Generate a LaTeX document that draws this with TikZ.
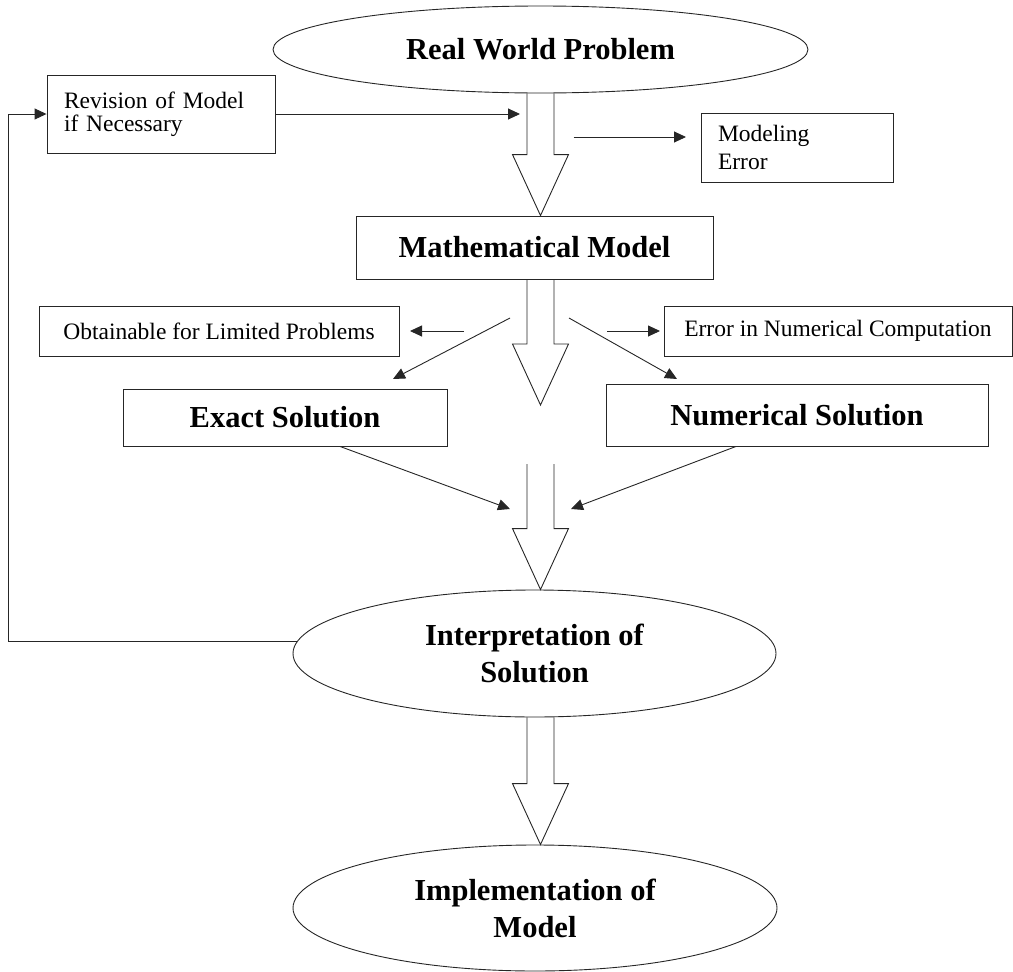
\documentclass[tikz,border=0pt]{standalone}
\usepackage{fontspec}
\setmainfont{Liberation Serif}
\usepackage{tikz}
\usetikzlibrary{arrows.meta,calc,shapes.geometric}

\begin{document}
\begin{tikzpicture}[
            x=1pt, y=-1pt,
            >={Triangle[length=12pt,width=11pt]},
            ellipse_node/.style={
                ellipse, draw=black!85, line width=0.9pt,
                inner sep=0pt, align=center,
                font=\fontsize{30.5}{37}\selectfont\bfseries
            },
            box_node/.style={
                rectangle, draw=black!85, line width=0.9pt,
                inner sep=0pt, align=center,
                font=\fontsize{30.5}{37}\selectfont\bfseries
            },
            note_node/.style={
                rectangle, draw=black!85, line width=0.9pt,
                inner sep=0pt, font=\fontsize{23.5}{23}\selectfont
            },
            arrow_style/.style={->, line width=0.9pt, black!85},
            % hollow block arrow between two points on one vertical
            fat_arrow/.style={
                draw=black!85, line width=0.9pt,
                to path={
                    let \p1=(\tikztostart), \p2=(\tikztotarget) in
                    (\x1-13.5pt,\y1) -- (\x1-13.5pt,\y2+61pt) -- (\x1-28pt,\y2+61pt)
                    -- (\x1,\y2) -- (\x1+28pt,\y2+61pt) -- (\x1+13.5pt,\y2+61pt)
                    -- (\x1+13.5pt,\y1)
                }
            }
        ]
        \useasboundingbox (0,0) rectangle (1013,972);

        % Main chain
        \node (real) [ellipse_node, minimum width=535pt, minimum height=87pt] at (540.5,49.5) {Real World Problem};
        \node (math) [box_node, minimum width=357pt, minimum height=63pt] at (534.5,247.5) {Mathematical Model};
        \node (exact) [box_node, minimum width=324pt, minimum height=57pt] at (285,417.5) {Exact Solution};
        \node (numsol) [box_node, minimum width=382pt, minimum height=62pt] at (797,415) {Numerical Solution};
        \node (interp) [ellipse_node, minimum width=483pt, minimum height=127pt] at (534.5,653.5) {Interpretation of\\Solution};
        \node (impl) [ellipse_node, minimum width=484pt, minimum height=126pt] at (535,908) {Implementation of\\Model};

        % Side notes
        \node (revision) [note_node, inner xsep=17pt, text width=194pt, align=left, minimum height=78pt] at (161,114) {Revision of Model\\if Necessary};
        \node (modeling) [note_node, inner xsep=17pt, text width=158pt, align=left, minimum height=69pt,
            font=\fontsize{23.5}{28}\selectfont] at (797,147.5) {Modeling\\Error};
        \node (obtain) [note_node, minimum width=360pt, minimum height=50pt] at (219,331) {Obtainable for Limited Problems};
        \node (numerr) [note_node, minimum width=348pt, minimum height=50pt] at (838,331) {Error in Numerical Computation};

        % Free ends
        \coordinate (stem) at (540.5,0);
        \coordinate (tip2) at (540.5,405);
        \coordinate (fat3) at (540.5,464);
        \coordinate (rev_in) at (520,114);
        \coordinate (mod_out) at (573.5,137);
        \coordinate (mod_in) at (686,137);
        \coordinate (obt_out) at (464,331);
        \coordinate (obt_in) at (410,331);
        \coordinate (exa_out) at (510,318);
        \coordinate (exa_in) at (393,379);
        \coordinate (err_out) at (607,331);
        \coordinate (err_in) at (660,331);
        \coordinate (num_out) at (569,318);
        \coordinate (num_in) at (677,379);
        \coordinate (join_left) at (510,509);
        \coordinate (join_right) at (571,509);
        \coordinate (loop) at (8,114);

        % Block arrows
        \draw[fat_arrow] (real.south) to (stem |- math.north);
        \draw[fat_arrow] (stem |- math.south) to (tip2);
        \draw[fat_arrow] (fat3) to (stem |- interp.north);
        \draw[fat_arrow] (stem |- interp.south) to (stem |- impl.north);

        % Thin arrows
        \draw[arrow_style] (revision.east) -- (rev_in);
        \draw[arrow_style] (mod_out) -- (mod_in);
        \draw[arrow_style] (obt_out) -- (obt_in);
        \draw[arrow_style] (exa_out) -- (exa_in);
        \draw[arrow_style] (err_out) -- (err_in);
        \draw[arrow_style] (num_out) -- (num_in);
        \draw[arrow_style] ([xshift=55]exact.south) -- (join_left);
        \draw[arrow_style] ([xshift=-61]numsol.south) -- (join_right);

        % Feedback loop
        \draw[arrow_style] (interp.177.5) -| (loop) -- (revision.west);
\end{tikzpicture}
\end{document}
